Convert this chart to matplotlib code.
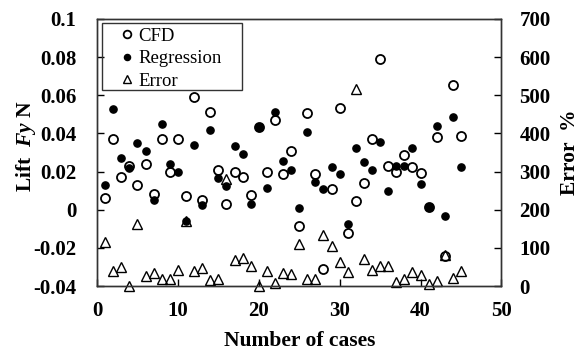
#! /usr/bin/env python3

"""
Lift force from CFD vs regression, with percentage error on a second axis.
"""

import matplotlib.pyplot as plt
from matplotlib.patches import Rectangle

cases = list(range(1, 46))

cfd = [0.006, 0.037, 0.017, 0.023, 0.013, 0.024, 0.008, 0.037, 0.020, 0.037,
       0.007, 0.059, 0.005, 0.051, 0.021, 0.003, 0.0196, 0.017, 0.0077, 0.0435,
       0.0196, 0.047, 0.0186, 0.031, -0.0085, 0.0505, 0.0187, -0.031, 0.011, 0.0535,
       -0.0124, 0.0047, 0.0138, 0.037, 0.079, 0.023, 0.0196, 0.0287, 0.0226, 0.019,
       0.0016, 0.038, -0.024, 0.0654, 0.0386]

regression = [0.013, 0.053, 0.027, 0.022, 0.035, 0.031, 0.005, 0.045, 0.024, 0.020,
              -0.006, 0.034, 0.0025, 0.042, 0.0165, 0.0125, 0.0334, 0.029, 0.003, 0.0435,
              0.0115, 0.051, 0.0255, 0.021, 0.0007, 0.041, 0.0144, 0.011, 0.0226, 0.0186,
              -0.0075, 0.0322, 0.0249, 0.0208, 0.0353, 0.010, 0.0229, 0.0229, 0.0325, 0.0133,
              0.0016, 0.044, -0.0033, 0.0488, 0.0225]

error = [116, 40, 51, 0, 162, 27, 33, 18, 18, 42,
         171, 40, 48, 16, 18, 280, 68, 73, 52, 1,
         40, 9, 35, 31, 110, 18, 18, 134, 105, 64,
         38, 516, 71, 42, 52, 52, 11, 18, 38, 29,
         5, 14, 81, 20, 40]

left_ticks = [-0.04, -0.02, 0, 0.02, 0.04, 0.06, 0.08, 0.1]
left_labels = ["-0.04", "-0.02", "0", "0.02", "0.04", "0.06", "0.08", "0.1"]
right_ticks = [0, 100, 200, 300, 400, 500, 600, 700]
x_ticks = [0, 10, 20, 30, 40, 50]

plt.rcParams["font.family"] = ["Liberation Serif", "DejaVu Serif"]
plt.rcParams["mathtext.fontset"] = "custom"
plt.rcParams["mathtext.it"] = "Liberation Serif:italic:bold"
plt.rcParams["mathtext.rm"] = "Liberation Serif:bold"

fig = plt.figure(figsize=(5.81, 3.51), dpi=100)
ax = fig.add_axes([0.167, 0.185, 0.696, 0.761])
ax2 = ax.twinx()

ax.plot(cases, cfd, "o", mfc="white", mec="black", mew=1.3, ms=6.5,
        label="CFD", zorder=3)
ax.plot(cases, regression, "o", color="black", ms=5.2,
        label="Regression", zorder=4)
ax2.plot(cases, error, "^", mfc="none", mec="black", mew=1.0, ms=7,
         label="Error", clip_on=False)

ax.set_xlim(0, 50)
ax.set_ylim(-0.04, 0.1)
ax2.set_ylim(0, 700)

ax.set_xticks(x_ticks)
ax.set_yticks(left_ticks)
ax.set_yticklabels(left_labels)
ax2.set_yticks(right_ticks)

for a in (ax, ax2):
    a.tick_params(direction="in", length=5, width=1, labelsize=15, pad=15)
    for lab in a.get_xticklabels() + a.get_yticklabels():
        lab.set_fontweight("bold")
    for sp in a.spines.values():
        sp.set_linewidth(1.0)
        sp.set_color("#333333")
ax.tick_params(axis="x", pad=11)
ax2.tick_params(axis="y", pad=13)

ax.set_xlabel("Number of cases", fontsize=15.5, fontweight="bold", labelpad=7)
ax.set_ylabel(r"Lift  $\mathit{Fy}$ N", fontsize=15.5, fontweight="bold")
ax.yaxis.set_label_coords(-0.145, 0.525)
ax2.set_ylabel("Error  %", fontsize=15.5, fontweight="bold", labelpad=7)

handles = [ax.lines[0], ax.lines[1], ax2.lines[0]]
leg = ax.legend(handles, ["CFD", "Regression", "Error"], loc="upper left",
                bbox_to_anchor=(0.038, 1.003), fontsize=13.5, frameon=False,
                handlelength=0.6, handletextpad=0.3, borderpad=0,
                labelspacing=0.29, markerscale=0.85)
ax.add_patch(Rectangle((0.0124, 0.734), 0.346, 0.251, transform=ax.transAxes,
                       fill=False, ec="#333333", lw=1.0, zorder=5))

plt.savefig("out.png")
plt.close()
